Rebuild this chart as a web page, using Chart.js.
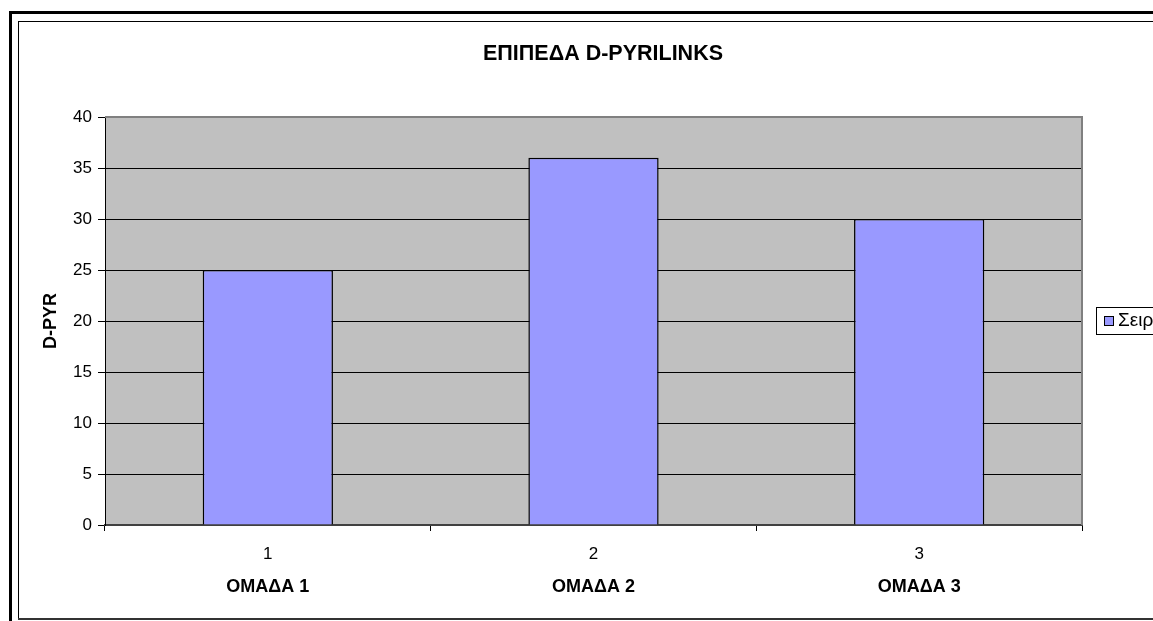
<!DOCTYPE html>
<html>
<head>
<meta charset="utf-8">
<title>ΕΠΙΠΕΔΑ D-PYRILINKS</title>
<script src="https://cdn.jsdelivr.net/npm/chart.js@4/dist/chart.umd.min.js"></script>
<style>
  html, body { margin: 0; padding: 0; background: #ffffff; overflow: hidden; }
  #wrap { position: relative; width: 1153px; height: 621px; }
</style>
</head>
<body>
<div id="wrap"><canvas id="chart"></canvas></div>
<script>
// Group numbers (first row under the axis) and group names (second row)
const groupNumbers = ['1', '2', '3'];
const groupNames = ['ΟΜΑΔΑ 1', 'ΟΜΑΔΑ 2', 'ΟΜΑΔΑ 3'];
// D-PYR level for each group
const dPyrValues = [25, 36, 30];
const seriesName = 'Σειρά1';
const chartTitle = 'ΕΠΙΠΕΔΑ D-PYRILINKS';
const yAxisTitle = 'D-PYR';

const FONT = "'Liberation Sans', Arial, Helvetica, sans-serif";
const BAR_COLOR = '#9999FF';
const PLOT_BG = '#C0C0C0';

Chart.defaults.font.family = FONT;
Chart.defaults.color = '#000000';

// Page frame, plot background, plot border, heading and the boxed legend
const excelLook = {
  id: 'excelLook',
  beforeDraw(chart) {
    const { ctx, chartArea: a } = chart;
    ctx.save();
    ctx.fillStyle = '#ffffff';
    ctx.fillRect(0, 0, chart.width, chart.height);
    // outer heavy frame
    ctx.strokeStyle = '#000000';
    ctx.lineWidth = 3;
    ctx.strokeRect(10.5, 12.5, chart.width + 20, chart.height + 20);
    // inner thin frame
    ctx.lineWidth = 1;
    ctx.strokeRect(18.5, 21.5, chart.width + 20, 597);
    ctx.strokeStyle = '#333333';
    ctx.lineWidth = 2;
    ctx.beginPath();
    ctx.moveTo(18, 619);
    ctx.lineTo(chart.width, 619);
    ctx.stroke();
    // plot area fill
    ctx.fillStyle = PLOT_BG;
    ctx.fillRect(a.left, a.top, a.right - a.left, a.bottom - a.top);
    ctx.restore();
  },
  afterDatasetsDraw(chart) {
    const { ctx, chartArea: a } = chart;
    ctx.save();
    ctx.strokeStyle = '#808080';
    ctx.lineWidth = 2;
    ctx.beginPath();
    ctx.moveTo(a.left, a.top);
    ctx.lineTo(a.right, a.top);
    ctx.lineTo(a.right, a.bottom);
    ctx.stroke();
    ctx.restore();
  },
  afterDraw(chart) {
    const { ctx } = chart;
    const ds = chart.data.datasets[0];
    ctx.save();
    // heading
    ctx.fillStyle = '#000000';
    ctx.font = 'bold 21.5px ' + FONT;
    ctx.textAlign = 'center';
    ctx.textBaseline = 'middle';
    ctx.fillText(chartTitle, 603, 54);
    // legend box
    ctx.strokeStyle = '#000000';
    ctx.lineWidth = 1;
    ctx.strokeRect(1096.5, 307.5, 120, 27);
    ctx.fillStyle = ds.backgroundColor;
    ctx.fillRect(1104, 316, 10, 10);
    ctx.strokeRect(1104.5, 316.5, 9, 9);
    ctx.fillStyle = '#000000';
    ctx.font = '19px ' + FONT;
    ctx.textAlign = 'left';
    ctx.fillText(ds.label, 1118, 321);
    ctx.restore();
  }
};

new Chart(document.getElementById('chart'), {
  type: 'bar',
  data: {
    labels: groupNumbers,
    datasets: [{
      label: seriesName,
      data: dPyrValues,
      xAxisID: 'x',
      backgroundColor: BAR_COLOR,
      borderColor: '#000000',
      borderWidth: 1.5,
      categoryPercentage: 1.0,
      barPercentage: 0.4
    }]
  },
  options: {
    responsive: true,
    maintainAspectRatio: false,
    animation: false,
    events: [],
    layout: { padding: { left: 20, top: 117, right: 71, bottom: 16 } },
    plugins: {
      legend: { display: false },
      tooltip: { enabled: false },
      title: { display: false }
    },
    scales: {
      x: {
        type: 'category',
        position: 'bottom',
        offset: true,
        grid: {
          display: true,
          offset: true,
          drawOnChartArea: false,
          drawTicks: true,
          tickLength: 6,
          color: '#000000',
          tickColor: '#000000'
        },
        border: { display: true, color: '#404040', width: 2 },
        ticks: { font: { size: 17 }, color: '#000000', padding: 13, maxRotation: 0 },
        afterFit(scale) { scale.height = 44; }
      },
      x2: {
        type: 'category',
        position: 'bottom',
        weight: 1,
        labels: groupNames,
        offset: true,
        grid: { display: false, drawTicks: false },
        border: { display: false },
        ticks: { font: { size: 18, weight: 'bold' }, color: '#000000', padding: 7, maxRotation: 0 },
        afterFit(scale) { scale.height = 36; }
      },
      y: {
        min: 0,
        max: 40,
        ticks: { stepSize: 5, font: { size: 17 }, color: '#000000', padding: 6 },
        grid: {
          color: (c) => (c.tick && c.tick.value === 40 ? '#808080' : '#000000'),
          tickColor: '#000000',
          tickLength: 7,
          lineWidth: 1
        },
        border: { display: true, color: '#000000', width: 1 },
        title: {
          display: true,
          text: yAxisTitle,
          color: '#000000',
          font: { size: 18, weight: 'bold' },
          padding: { top: 20, bottom: 0 }
        },
        afterFit(scale) { scale.width = 85; }
      }
    }
  },
  plugins: [excelLook]
});
</script>
</body>
</html>
